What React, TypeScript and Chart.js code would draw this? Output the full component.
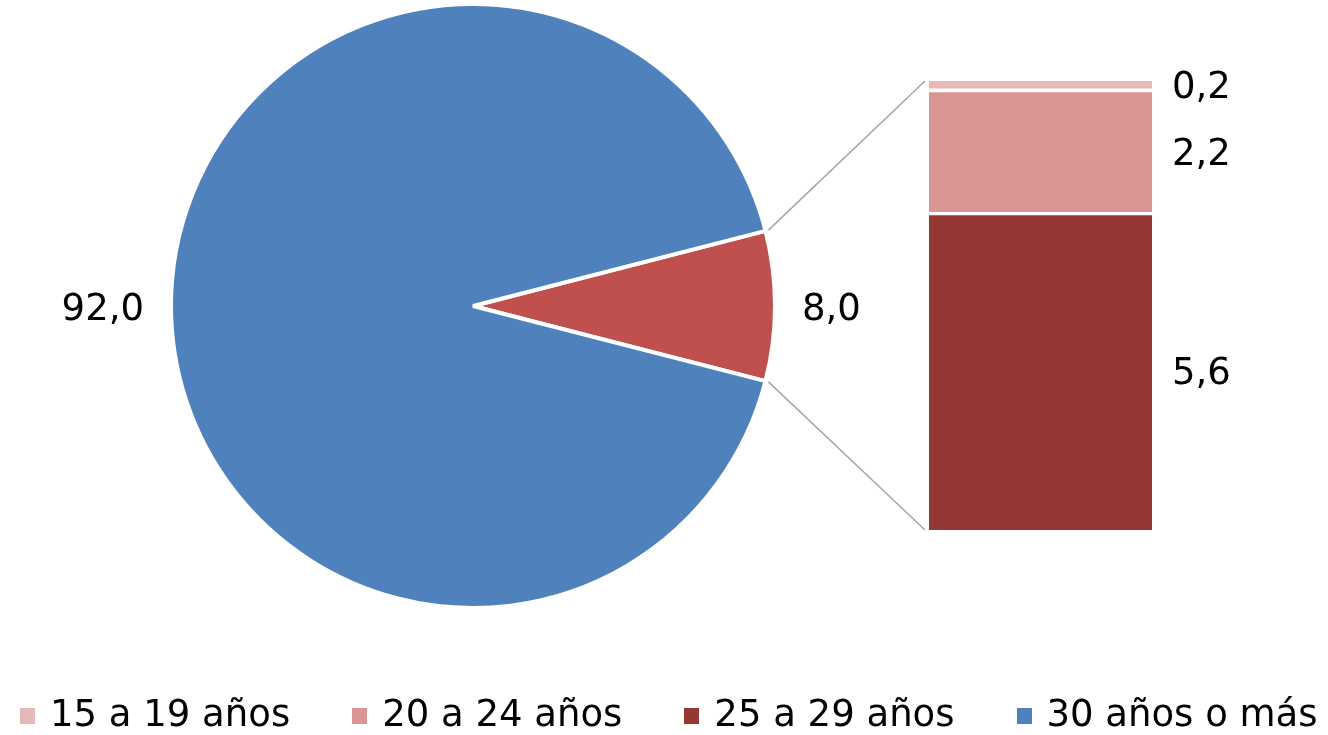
import React, { useEffect, useRef } from 'react';
import { Chart, registerables } from 'chart.js';

Chart.register(...registerables);

// ---- data ----
const pieCategories = ['15 a 29 años', '30 años o más'];
const pieValues = [8.0, 92.0];
const pieColors = ['#C0504D', '#4F81BD'];

const barGroup = ['15 a 29 años'];
const barCategories = ['25 a 29 años', '20 a 24 años', '15 a 19 años'];
const barValues = [5.6, 2.2, 0.2];
const barColors = ['#953735', '#D99694', '#E6B9B8'];

const legendLabels = ['15 a 19 años', '20 a 24 años', '25 a 29 años', '30 años o más'];
const legendColors = ['#E6B9B8', '#D99694', '#953735', '#4F81BD'];

const FONT = '"DejaVu Sans", Verdana, sans-serif';
const W = 1328;
const H = 735;

const fmt = (v: number) => v.toFixed(1).replace('.', ',');

export default function App() {
  const pieRef = useRef<HTMLCanvasElement | null>(null);
  const barRef = useRef<HTMLCanvasElement | null>(null);

  useEffect(() => {
    if (!pieRef.current || !barRef.current) return;
    Chart.defaults.font.family = FONT;

    const pieTotal = pieValues.reduce((a, b) => a + b, 0);
    const firstSweep = (pieValues[0] / pieTotal) * 360;

    const pieLabelPlugin = {
      id: 'pieLabels',
      afterDatasetsDraw(chart: any) {
        const ctx = chart.ctx;
        const meta = chart.getDatasetMeta(0);
        ctx.save();
        ctx.font = `37px ${FONT}`;
        ctx.fillStyle = '#000000';
        ctx.textBaseline = 'alphabetic';
        meta.data.forEach((arc: any, i: number) => {
          const p = arc.getProps(['x', 'y', 'startAngle', 'endAngle', 'outerRadius'], true);
          const mid = (p.startAngle + p.endAngle) / 2;
          const r = p.outerRadius + 27;
          const x = p.x + Math.cos(mid) * r;
          const y = p.y + Math.sin(mid) * r;
          ctx.textAlign = Math.cos(mid) >= 0 ? 'left' : 'right';
          ctx.fillText(fmt(chart.data.datasets[0].data[i]), x, y + 14);
        });
        ctx.restore();
      },
    };

    const pie = new Chart(pieRef.current, {
      type: 'pie',
      data: {
        labels: pieCategories,
        datasets: [
          {
            data: pieValues,
            backgroundColor: pieColors,
            borderColor: '#ffffff',
            borderWidth: 4,
            hoverOffset: 0,
          },
        ],
      },
      options: {
        responsive: false,
        animation: false,
        events: [],
        rotation: 90 - firstSweep / 2,
        radius: 302,
        layout: { padding: { left: 163, right: 545, top: 0, bottom: 123 } },
        plugins: { legend: { display: false }, tooltip: { enabled: false } },
      } as any,
      plugins: [pieLabelPlugin],
    });

    const barPlugin = {
      id: 'barLabelsAndConnectors',
      afterDatasetsDraw(chart: any) {
        const ctx = chart.ctx;
        const metas = chart.getSortedVisibleDatasetMetas();
        let top = Infinity;
        let bottom = -Infinity;
        let left = 0;
        ctx.save();
        ctx.font = `37px ${FONT}`;
        ctx.fillStyle = '#000000';
        ctx.textAlign = 'left';
        ctx.textBaseline = 'alphabetic';
        metas.forEach((meta: any) => {
          const el = meta.data[0];
          const p = el.getProps(['x', 'y', 'base', 'width'], true);
          const v = chart.data.datasets[meta.index].data[0];
          const cy = (p.y + p.base) / 2;
          ctx.fillText(fmt(v), p.x + p.width / 2 + 20, cy + 11);
          top = Math.min(top, p.y, p.base);
          bottom = Math.max(bottom, p.y, p.base);
          left = p.x - p.width / 2;
        });
        // connectors from the pie's first slice to the bar
        const arc = pie.getDatasetMeta(0).data[0] as any;
        if (arc) {
          const a = arc.getProps(['x', 'y', 'startAngle', 'endAngle', 'outerRadius'], true);
          const r = a.outerRadius + 3;
          ctx.strokeStyle = '#A6A6A6';
          ctx.lineWidth = 1.5;
          ctx.beginPath();
          ctx.moveTo(a.x + Math.cos(a.startAngle) * r, a.y + Math.sin(a.startAngle) * r);
          ctx.lineTo(left - 4, top);
          ctx.moveTo(a.x + Math.cos(a.endAngle) * r, a.y + Math.sin(a.endAngle) * r);
          ctx.lineTo(left - 4, bottom);
          ctx.stroke();
        }
        ctx.restore();
      },
    };

    const barTotal = barValues.reduce((a, b) => a + b, 0);

    const bar = new Chart(barRef.current, {
      type: 'bar',
      data: {
        labels: barGroup,
        datasets: barCategories.map((c, i) => ({
          label: c,
          data: [barValues[i]],
          backgroundColor: barColors[i],
          borderColor: '#ffffff',
          borderWidth: i === 0 ? 0 : { top: 0, left: 0, right: 0, bottom: 4 },
          borderSkipped: false,
          categoryPercentage: 1,
          barPercentage: 1,
        })),
      },
      options: {
        responsive: false,
        animation: false,
        events: [],
        layout: { padding: { left: 929, right: 176, top: 81, bottom: 205 } },
        scales: {
          x: { display: false, stacked: true },
          y: { display: false, stacked: true, min: 0, max: barTotal },
        },
        plugins: { legend: { display: false }, tooltip: { enabled: false } },
      } as any,
      plugins: [barPlugin],
    });

    return () => {
      bar.destroy();
      pie.destroy();
    };
  }, []);

  return (
    <div
      style={{
        position: 'fixed',
        left: 0,
        top: 0,
        width: W,
        height: H,
        overflow: 'hidden',
        background: '#ffffff',
      }}
    >
      <canvas
        ref={pieRef}
        width={W}
        height={H}
        style={{ position: 'absolute', left: 0, top: 0, display: 'block' }}
      />
      <canvas
        ref={barRef}
        width={W}
        height={H}
        style={{ position: 'absolute', left: 0, top: 0, display: 'block' }}
      />
      <div
        style={{
          position: 'absolute',
          left: 20,
          top: 695,
          display: 'flex',
          flexDirection: 'row',
          fontFamily: FONT,
          fontSize: 37,
          lineHeight: '37px',
          color: '#000000',
          whiteSpace: 'nowrap',
        }}
      >
        {legendLabels.map((label, i) => (
          <div
            key={label}
            style={{
              display: 'flex',
              alignItems: 'flex-start',
              marginRight: i < legendLabels.length - 1 ? 62 : 0,
            }}
          >
            <span
              style={{
                display: 'inline-block',
                width: 15,
                height: 16,
                marginTop: 13,
                marginRight: 15,
                background: legendColors[i],
              }}
            />
            <span>{label}</span>
          </div>
        ))}
      </div>
    </div>
  );
}
